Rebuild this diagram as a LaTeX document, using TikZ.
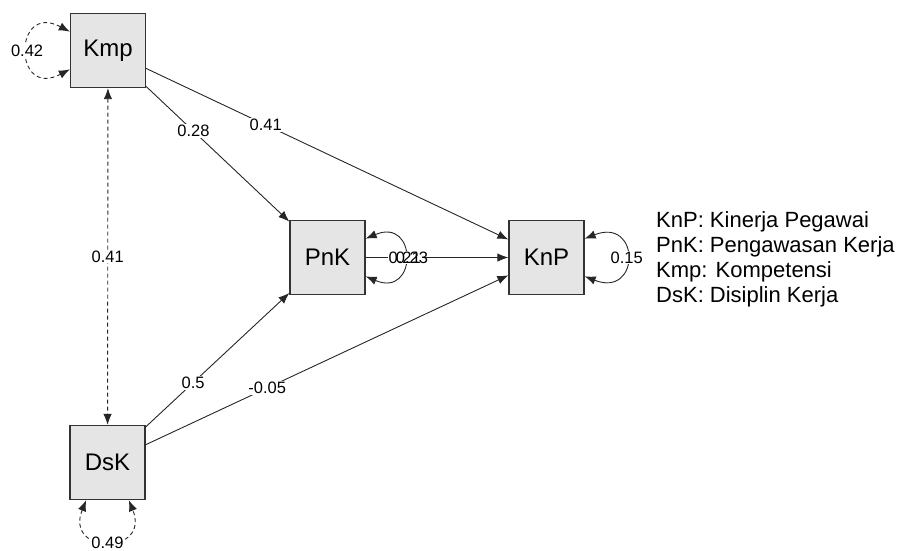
\documentclass[tikz,border=0pt]{standalone}
\usepackage{fontspec}
\setmainfont{Liberation Sans}
\usetikzlibrary{arrows.meta,calc}
\begin{document}
\begin{tikzpicture}[x=1pt,y=-1pt,
  var/.style={draw=black!80,line width=1.3pt,fill=black!10,minimum width=75pt,minimum height=74pt,inner sep=0pt,font=\fontsize{24}{28}\selectfont},
  tip/.tip={Latex[length=11pt,width=8.5pt]},
  pathline/.style={draw=black!85,line width=0.9pt,-tip},
  covline/.style={draw=black!85,line width=0.9pt,dash pattern=on 4pt off 3pt,tip-tip},
  resline/.style={draw=black!85,line width=0.9pt,tip-tip},
  lbl/.style={font=\fontsize{16.5}{18}\selectfont,fill=white,inner sep=1pt},
  lblnf/.style={font=\fontsize{16.5}{18}\selectfont,inner sep=1pt},
  legend/.style={font=\fontsize{22}{25}\selectfont,anchor=base west,inner sep=0pt}]
\useasboundingbox (0,0) rectangle (899,550);

\node[var] (Kmp) at (108,50.5) {Kmp};
\node[var] (PnK) at (327.5,257.5) {PnK};
\node[var] (KnP) at (546.5,257.5) {KnP};
\node[var] (DsK) at (107.5,462.5) {DsK};

% structural paths
\draw[pathline] (Kmp) -- (PnK) node[lbl,pos=0.33] {0.28};
\draw[pathline] (Kmp) -- (KnP) node[lbl,pos=0.33] {0.41};
\draw[pathline] (DsK) -- (PnK) node[lbl,pos=0.33] {0.5};
\draw[pathline] (DsK) -- (KnP) node[lbl,pos=0.335] {-0.05};
\draw[pathline] (PnK) -- (KnP);
\draw[covline] (Kmp) -- (DsK) node[lbl,pos=0.5] {0.41};

% residual loops
\coordinate (ka) at ($(Kmp.north west)!0.25!(Kmp.south west)$);
\coordinate (kb) at ($(Kmp.north west)!0.75!(Kmp.south west)$);
\draw[covline] (ka) .. controls +(-57,-30) and +(-57,30) .. (kb) node[lbl,pos=0.5] {0.42};

\coordinate (da) at ($(DsK.south west)!0.22!(DsK.south east)$);
\coordinate (db) at ($(DsK.south west)!0.78!(DsK.south east)$);
\draw[covline] (da) .. controls +(-22,55) and +(22,55) .. (db) node[lbl,pos=0.5,yshift=-1pt] {0.49};

\coordinate (pa) at ($(PnK.north east)!0.25!(PnK.south east)$);
\coordinate (pb) at ($(PnK.north east)!0.75!(PnK.south east)$);
\draw[resline] (pa) .. controls +(52,-22) and +(52,22) .. (pb) node[lbl,pos=0.5] (pl) {0.21};
\node[lblnf] (pk) at (412,257.5) {0.23};

\coordinate (na) at ($(KnP.north east)!0.25!(KnP.south east)$);
\coordinate (nb) at ($(KnP.north east)!0.75!(KnP.south east)$);
\draw[resline] (na) .. controls +(56,-22) and +(56,22) .. (nb) node[lbl,pos=0.5] {0.15};

% legend
\node[legend] (l1) at (656,227) {KnP: Kinerja Pegawai};
\node[legend] (l2) at (656,252) {PnK: Pengawasan Kerja};
\node[legend] (l3) at (656,277) {Kmp: Kompetensi};
\node[legend] (l4) at (656,302) {DsK: Disiplin Kerja};
\end{tikzpicture}
\end{document}
